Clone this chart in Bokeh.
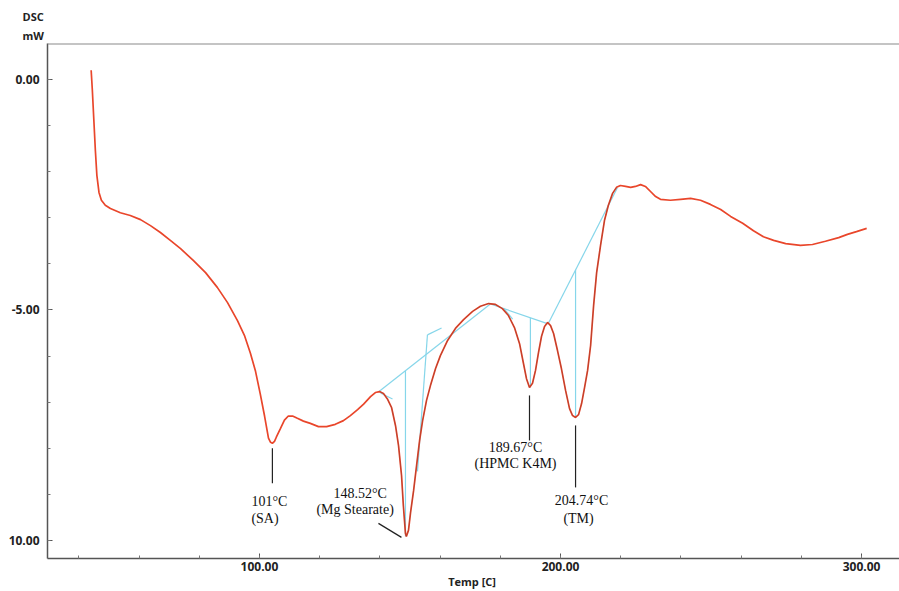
from bokeh.plotting import figure
from bokeh.models import Range1d, FixedTicker, PrintfTickFormatter, Label, Span, Title
from bokeh.embed import file_html
from bokeh.resources import INLINE

# ---- DSC curve ----
temp = [44.1, 44.5, 45.0, 45.5, 46.0, 46.7, 47.5, 48.8, 50.5, 53.8, 57.1, 60.5, 63.8, 67.1,
        70.4, 73.8, 78.1, 82.1, 86.0, 89.4, 92.7, 95.0, 97.0, 98.7, 100.3, 101.7, 103.0,
        103.7, 104.3, 105.0, 105.6, 107.0, 108.3, 109.6, 111.0, 112.6, 114.6, 116.9, 119.6,
        122.3, 125.2, 127.9, 130.2, 132.6, 134.6, 136.9, 138.5, 139.9, 141.2, 142.5, 143.9,
        145.2, 146.2, 147.2, 147.8, 148.5, 148.8, 149.5, 150.2, 151.2, 152.2, 153.2, 154.2,
        155.5, 156.8, 158.5, 160.1, 162.5, 165.1, 167.8, 170.8, 173.4, 176.1, 178.4, 180.7,
        182.7, 184.7, 186.4, 187.7, 188.7, 189.7, 190.7, 191.7, 192.7, 193.7, 194.7, 195.7,
        196.7, 197.7, 199.0, 200.3, 201.7, 203.0, 204.0, 205.0, 206.0, 207.0, 208.0, 209.0,
        210.0, 211.0, 212.0, 213.3, 214.6, 215.9, 217.3, 218.6, 219.9, 221.6, 223.3, 224.9,
        226.6, 228.2, 229.9, 231.6, 233.2, 236.5, 239.9, 243.2, 246.5, 249.8, 253.2, 256.5,
        260.5, 264.1, 267.4, 270.8, 274.8, 279.7, 283.7, 288.0, 292.4, 295.3, 298.3, 301.7]
dsc = [0.20, -0.24, -0.89, -1.54, -2.08, -2.45, -2.62, -2.73, -2.80, -2.89, -2.95, -3.04, -3.17, -3.32,
       -3.49, -3.67, -3.93, -4.19, -4.51, -4.84, -5.23, -5.55, -5.94, -6.33, -6.83, -7.30, -7.78,
       -7.87, -7.89, -7.85, -7.76, -7.57, -7.39, -7.30, -7.30, -7.35, -7.41, -7.46, -7.53,
       -7.53, -7.48, -7.40, -7.29, -7.16, -7.04, -6.88, -6.79, -6.77, -6.81, -6.93, -7.12,
       -7.51, -7.94, -8.59, -9.24, -9.85, -9.91, -9.78, -9.39, -8.92, -8.37, -7.83, -7.40,
       -6.96, -6.64, -6.27, -5.99, -5.66, -5.40, -5.21, -5.03, -4.92, -4.86, -4.88, -4.97,
       -5.12, -5.38, -5.73, -6.16, -6.49, -6.68, -6.59, -6.31, -5.92, -5.57, -5.36, -5.27,
       -5.34, -5.51, -5.88, -6.27, -6.75, -7.14, -7.29, -7.33, -7.27, -7.03, -6.68, -6.31,
       -5.77, -4.90, -4.19, -3.60, -3.06, -2.73, -2.47, -2.34, -2.30, -2.32, -2.34, -2.32,
       -2.28, -2.32, -2.43, -2.54, -2.60, -2.62, -2.60, -2.58, -2.62, -2.71, -2.82, -2.97,
       -3.12, -3.28, -3.41, -3.49, -3.56, -3.60, -3.58, -3.51, -3.43, -3.36, -3.30, -3.23]

# ---- peak annotations ----
peak_temp = [104.3, 148.5, 189.7, 205.0]
peak_dsc = [-7.89, -9.91, -6.68, -7.33]
peak_label = ["101°C", "148.52°C", "189.67°C", "204.74°C"]
peak_name = ["(SA)", "(Mg Stearate)", "(HPMC K4M)", "(TM)"]

# ---- tangent / baseline construction lines (analysis software) ----
tan_x0 = [139.5, 148.5, 155.8, 155.8, 140.2, 176.7, 190.0, 195.9, 205.0, 181.1]
tan_y0 = [-6.78, -6.32, -5.54, -5.54, -6.80, -4.87, -5.17, -5.30, -4.13, -4.96]
tan_x1 = [176.7, 148.5, 152.5, 160.5, 144.2, 195.9, 190.0, 218.9, 205.0, 184.1]
tan_y1 = [-4.87, -9.91, -8.50, -5.39, -6.93, -5.30, -6.68, -2.35, -7.33, -5.20]

x_major = [100, 200, 300]
x_minor = list(range(40, 301, 20))
y_major = [-10, -5, 0]
y_minor = list(range(-10, 1))

X_START, X_END = 29.6, 312.6
Y_START, Y_END = -10.39, 0.78
PX_Y = 515.0 / (Y_END - Y_START)   # pixels per data unit on y
PX_X = 852.0 / (X_END - X_START)

p = figure(width=899, height=591, output_backend="svg", toolbar_location=None, title=None,
           x_range=Range1d(X_START, X_END), y_range=Range1d(Y_START, Y_END),
           min_border_left=47, min_border_right=0, min_border_top=43, min_border_bottom=33)
p.outline_line_color = None
p.background_fill_color = "white"
p.border_fill_color = "white"
p.xgrid.visible = False
p.ygrid.visible = False

for ax in (p.xaxis[0], p.yaxis[0]):
    ax.axis_line_color = "#555555"
    ax.axis_line_width = 1.5
    ax.major_tick_line_color = "#555555"
    ax.minor_tick_line_color = "#777777"
    ax.major_tick_in = 5
    ax.major_tick_out = 0
    ax.minor_tick_in = 3
    ax.minor_tick_out = 0
    ax.major_label_text_font = "Open Sans"
    ax.major_label_text_font_style = "bold"
    ax.major_label_text_font_size = "12px"
    ax.major_label_text_color = "#222222"
    ax.formatter = PrintfTickFormatter(format="%.2f")

p.xaxis.ticker = FixedTicker(ticks=x_major, minor_ticks=x_minor)
p.yaxis.ticker = FixedTicker(ticks=y_major, minor_ticks=y_minor)
p.yaxis.major_label_overrides = {-10: "10.00"}
p.xaxis.major_label_standoff = 3
p.yaxis.major_label_standoff = 8
p.xaxis.axis_label = "Temp  [C]"
p.xaxis.axis_label_text_font = "Open Sans"
p.xaxis.axis_label_text_font_style = "bold"
p.xaxis.axis_label_text_font_size = "11px"
p.xaxis.axis_label_text_color = "#222222"
p.xaxis.axis_label_standoff = 0

# top frame line
p.add_layout(Span(location=Y_END, dimension="width", line_color="#8a8a8a", line_width=2))

# y axis title (two stacked lines above the frame, left)
for txt in ("mW", "DSC"):
    p.add_layout(Title(text=txt, align="left", offset=-25, standoff=2,
                       text_font="Open Sans", text_font_style="bold",
                       text_font_size="11px", text_color="#222222"), "above")

# tangents
p.segment(x0=tan_x0, y0=tan_y0, x1=tan_x1, y1=tan_y1, line_color="#86d6ea", line_width=1.2)

# curve
p.line(temp, dsc, line_color="#e9462b", line_width=1.7)
# darker analysis overlay along flanks
sel = [i for i, t in enumerate(temp) if 139 <= t <= 219]
p.line([temp[i] for i in sel], [dsc[i] for i in sel], line_color="#333333",
       line_width=0.8, line_alpha=0.3)

# leader lines (pixel offsets converted to data units)
lead_top = [5, 6, 8, 8]
lead_bot = [40, 0, 53, 70]
for i in range(4):
    if i == 1:
        p.segment(x0=[peak_temp[i] - 27 / PX_X], y0=[peak_dsc[i] + 13 / PX_Y],
                  x1=[peak_temp[i] - 4 / PX_X], y1=[peak_dsc[i] - 1 / PX_Y],
                  line_color="#222222", line_width=1.2)
    else:
        p.segment(x0=[peak_temp[i]], y0=[peak_dsc[i] - lead_top[i] / PX_Y],
                  x1=[peak_temp[i]], y1=[peak_dsc[i] - lead_bot[i] / PX_Y],
                  line_color="#222222", line_width=1.2)

# annotation texts: (x_offset, y_offset, align) per line
ann1 = [(-21, -58, "left"), (-72, 43, "left"), (-14, -60, "center"), (6, -83, "center")]
ann2 = [(-21, -75, "left"), (-89, 27, "left"), (-14, -76, "center"), (3, -101, "center")]
for i in range(4):
    for txt, (dx, dy, al) in ((peak_label[i], ann1[i]), (peak_name[i], ann2[i])):
        p.add_layout(Label(x=peak_temp[i], y=peak_dsc[i], text=txt, x_offset=dx, y_offset=dy,
                           text_align=al, text_baseline="middle",
                           text_font="Liberation Serif", text_font_size="14px",
                           text_color="#111111"))

open("out.html", "w").write(file_html(p, INLINE))
